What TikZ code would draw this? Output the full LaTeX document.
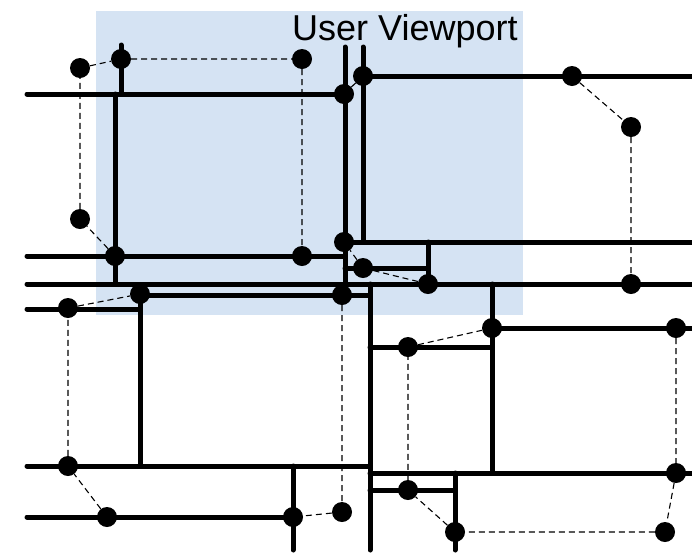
\documentclass[tikz,border=0pt]{standalone}
\usepackage{fontspec}
\setmainfont{Liberation Sans}
\definecolor{viewblue}{RGB}{213,227,243}
\begin{document}
\begin{tikzpicture}[x=1pt,y=-1pt,
  road/.style={line width=5pt,line cap=round},
  link/.style={line width=1.1pt,dash pattern=on 6pt off 4pt},
  stop/.style={circle,fill=black,inner sep=0pt,minimum size=20pt},
  caption/.style={font=\fontsize{36}{40}\selectfont,inner sep=0pt,anchor=base west}]
\useasboundingbox (0,0) rectangle (692,555);

% viewport area
\fill[viewblue] (96,11) rectangle (523,315);
\node[caption] (title) at (292,40) {User Viewport};

% horizontal roads
\draw[road] (27,94) -- (345,94);
\draw[road] (363,76) -- (700,76);
\draw[road] (27,256) -- (345,256);
\draw[road] (345,242) -- (700,242);
\draw[road] (345,268) -- (428,268);
\draw[road] (27,284) -- (700,284);
\draw[road] (140,295) -- (370,295);
\draw[road] (27,309) -- (140,309);
\draw[road] (492,328) -- (700,328);
\draw[road] (370,347) -- (492,347);
\draw[road] (27,466) -- (370,466);
\draw[road] (370,473) -- (700,473);
\draw[road] (370,490) -- (455,490);
\draw[road] (27,517) -- (293,517);

% vertical roads
\draw[road] (121,45) -- (121,94);
\draw[road] (115,94) -- (115,284);
\draw[road] (345,47) -- (345,284);
\draw[road] (363,47) -- (363,242);
\draw[road] (428,242) -- (428,284);
\draw[road] (140,295) -- (140,466);
\draw[road] (370,284) -- (370,550);
\draw[road] (492,284) -- (492,473);
\draw[road] (293,466) -- (293,550);
\draw[road] (455,473) -- (455,550);

% stops, first route
\node[stop] (a1) at (80,68) {};
\node[stop] (a2) at (121,59) {};
\node[stop] (a3) at (302,59) {};
\node[stop] (a4) at (302,256) {};
\node[stop] (a5) at (115,256) {};
\node[stop] (a6) at (80,219) {};
% second route
\node[stop] (b1) at (344,94) {};
\node[stop] (b2) at (363,76) {};
\node[stop] (b3) at (572,76) {};
\node[stop] (b4) at (631,127) {};
\node[stop] (b5) at (631,284) {};
\node[stop] (b6) at (428,284) {};
\node[stop] (b7) at (363,268) {};
\node[stop] (b8) at (344,242) {};
% third route
\node[stop] (c1) at (68,308) {};
\node[stop] (c2) at (140,294) {};
\node[stop] (c3) at (342,295) {};
\node[stop] (c4) at (342,512) {};
\node[stop] (c5) at (293,517) {};
\node[stop] (c6) at (107,517) {};
\node[stop] (c7) at (68,466) {};
% fourth route
\node[stop] (d1) at (408,347) {};
\node[stop] (d2) at (492,328) {};
\node[stop] (d3) at (676,328) {};
\node[stop] (d4) at (676,473) {};
\node[stop] (d5) at (665,532) {};
\node[stop] (d6) at (455,532) {};
\node[stop] (d7) at (408,490) {};

% route links
\draw[link] (a1) -- (a2) -- (a3) -- (a4) -- (a5) -- (a6) -- (a1);
\draw[link] (b1) -- (b2) -- (b3) -- (b4) -- (b5) -- (b6) -- (b7) -- (b8) -- (b1);
\draw[link] (c1) -- (c2) -- (c3) -- (c4) -- (c5) -- (c6) -- (c7) -- (c1);
\draw[link] (d1) -- (d2) -- (d3) -- (d4) -- (d5) -- (d6) -- (d7) -- (d1);
\end{tikzpicture}
\end{document}
